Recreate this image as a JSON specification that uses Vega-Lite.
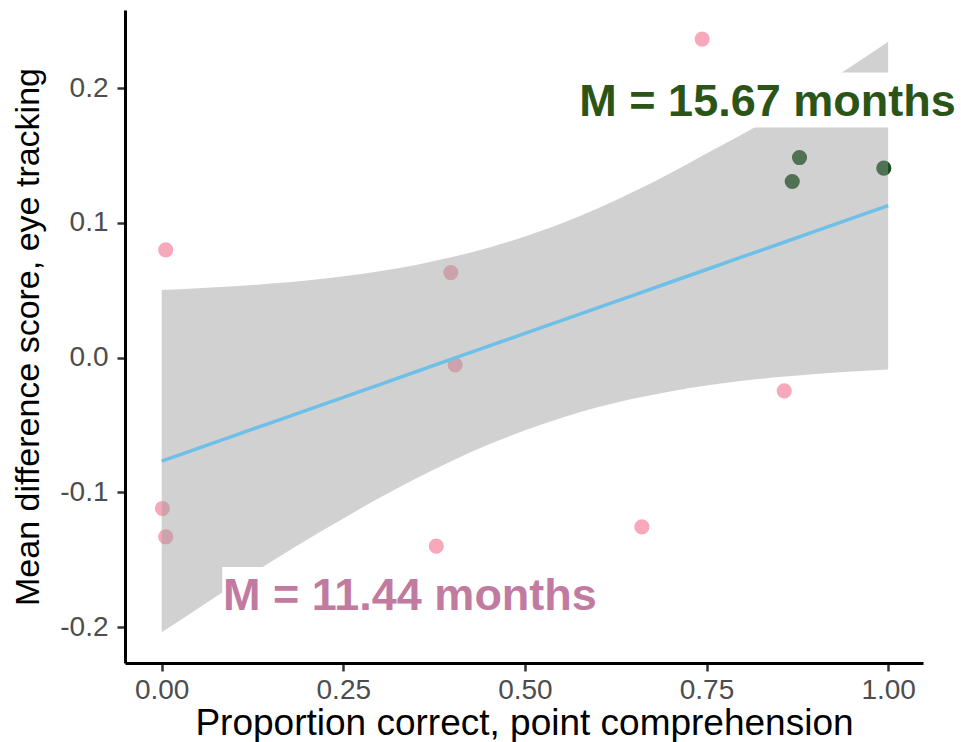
{
  "$schema": "https://vega.github.io/schema/vega-lite/v6.json",
  "autosize": {"type": "none"},
  "width": 798,
  "height": 653,
  "padding": {"left": 125, "top": 10, "right": 38, "bottom": 79},
  "background": "white",
  "config": {
    "view": {"stroke": null},
    "font": "Liberation Sans",
    "axis": {
      "grid": false,
      "domainColor": "#000000",
      "domainWidth": 3,
      "tickColor": "#333333",
      "tickWidth": 2.5,
      "tickSize": 8,
      "labelColor": "#4D4D4D",
      "labelFont": "Liberation Sans",
      "labelFontSize": 28,
      "titleFont": "Liberation Sans",
      "titleFontSize": 34,
      "titleFontWeight": "normal",
      "titleColor": "#000000"
    }
  },
  "datasets": {
    "points": [
      {"prop": 0.0055, "score": 0.080, "group": "11.44"},
      {"prop": 0.001, "score": -0.112, "group": "11.44"},
      {"prop": 0.0055, "score": -0.133, "group": "11.44"},
      {"prop": 0.398, "score": 0.0631, "group": "11.44"},
      {"prop": 0.404, "score": -0.0054, "group": "11.44"},
      {"prop": 0.378, "score": -0.140, "group": "11.44"},
      {"prop": 0.661, "score": -0.1257, "group": "11.44"},
      {"prop": 0.744, "score": 0.2364, "group": "11.44"},
      {"prop": 0.857, "score": -0.0247, "group": "11.44"},
      {"prop": 0.868, "score": 0.1307, "group": "15.67"},
      {"prop": 0.878, "score": 0.1485, "group": "15.67"},
      {"prop": 0.994, "score": 0.1406, "group": "15.67"}
    ],
    "band": [
      {"prop": 0.00, "fit": -0.0769, "upper": 0.0501, "lower": -0.2039},
      {"prop": 0.05, "fit": -0.0674, "upper": 0.0514, "lower": -0.1862},
      {"prop": 0.10, "fit": -0.0579, "upper": 0.0529, "lower": -0.1687},
      {"prop": 0.15, "fit": -0.0484, "upper": 0.0549, "lower": -0.1517},
      {"prop": 0.20, "fit": -0.0390, "upper": 0.0573, "lower": -0.1353},
      {"prop": 0.25, "fit": -0.0295, "upper": 0.0604, "lower": -0.1194},
      {"prop": 0.30, "fit": -0.0200, "upper": 0.0641, "lower": -0.1041},
      {"prop": 0.35, "fit": -0.0105, "upper": 0.0688, "lower": -0.0898},
      {"prop": 0.40, "fit": -0.0010, "upper": 0.0746, "lower": -0.0766},
      {"prop": 0.45, "fit": 0.0085, "upper": 0.0816, "lower": -0.0646},
      {"prop": 0.50, "fit": 0.0180, "upper": 0.0899, "lower": -0.0539},
      {"prop": 0.55, "fit": 0.0274, "upper": 0.0996, "lower": -0.0448},
      {"prop": 0.60, "fit": 0.0369, "upper": 0.1107, "lower": -0.0369},
      {"prop": 0.65, "fit": 0.0464, "upper": 0.1232, "lower": -0.0304},
      {"prop": 0.70, "fit": 0.0559, "upper": 0.1369, "lower": -0.0251},
      {"prop": 0.75, "fit": 0.0654, "upper": 0.1515, "lower": -0.0207},
      {"prop": 0.80, "fit": 0.0749, "upper": 0.1660, "lower": -0.0172},
      {"prop": 0.85, "fit": 0.0843, "upper": 0.1815, "lower": -0.0145},
      {"prop": 0.90, "fit": 0.0938, "upper": 0.1990, "lower": -0.0122},
      {"prop": 0.95, "fit": 0.1033, "upper": 0.2165, "lower": -0.0104},
      {"prop": 1.00, "fit": 0.1128, "upper": 0.2345, "lower": -0.0089}
    ],
    "labels": [
      {"label": "M = 15.67 months", "group": "15.67", "prop": 0.834, "score": 0.1794, "left": 0.569, "right": 1.01, "top": 0.2116, "bottom": 0.1708},
      {"label": "M = 11.44 months", "group": "11.44", "prop": 0.3417, "score": -0.1875, "left": 0.0834, "right": 0.603, "top": -0.1554, "bottom": -0.196}
    ]
  },
  "layer": [
    {
      "data": {"name": "points"},
      "mark": {"type": "circle", "size": 230, "opacity": 1},
      "encoding": {
        "x": {"field": "prop", "type": "quantitative", "scale": {"domain": [-0.0505, 1.048], "nice": false, "zero": false},
          "axis": {"values": [0, 0.25, 0.5, 0.75, 1], "format": ".2f", "title": "Proportion correct, point comprehension", "titleFontSize": 37, "labelPadding": 5, "titlePadding": 1}},
        "y": {"field": "score", "type": "quantitative", "scale": {"domain": [-0.2267, 0.258], "nice": false, "zero": false},
          "axis": {"values": [-0.2, -0.1, 0, 0.1, 0.2], "labelExpr": "replace(format(datum.value, '.1f'), '−', '-')", "title": "Mean difference score, eye tracking", "labelPadding": 9, "titlePadding": 14}},
        "color": {"field": "group", "type": "nominal", "scale": {"domain": ["11.44", "15.67"], "range": ["#F7A9BB", "#14501A"]}, "legend": null}
      }
    },
    {
      "data": {"name": "band"},
      "mark": {"type": "area", "color": "#999999", "opacity": 0.45, "interpolate": "monotone"},
      "encoding": {
        "x": {"field": "prop", "type": "quantitative"},
        "y": {"field": "upper", "type": "quantitative"},
        "y2": {"field": "lower"}
      }
    },
    {
      "data": {"name": "band"},
      "mark": {"type": "line", "color": "#6EC0E8", "strokeWidth": 3.5},
      "encoding": {
        "x": {"field": "prop", "type": "quantitative"},
        "y": {"field": "fit", "type": "quantitative"}
      }
    },
    {
      "data": {"name": "labels"},
      "mark": {"type": "rect", "color": "#FFFFFF", "opacity": 1},
      "encoding": {
        "x": {"field": "left", "type": "quantitative"},
        "x2": {"field": "right"},
        "y": {"field": "top", "type": "quantitative"},
        "y2": {"field": "bottom"}
      }
    },
    {
      "data": {"name": "labels"},
      "mark": {"type": "text", "fontSize": 45, "fontWeight": "bold", "font": "Liberation Sans", "align": "center", "baseline": "alphabetic"},
      "encoding": {
        "x": {"field": "prop", "type": "quantitative"},
        "y": {"field": "score", "type": "quantitative"},
        "text": {"field": "label"},
        "color": {"field": "group", "type": "nominal", "scale": {"domain": ["11.44", "15.67"], "range": ["#C27BA0", "#2B5517"]}, "legend": null}
      }
    }
  ],
  "resolve": {"scale": {"color": "independent"}}
}
